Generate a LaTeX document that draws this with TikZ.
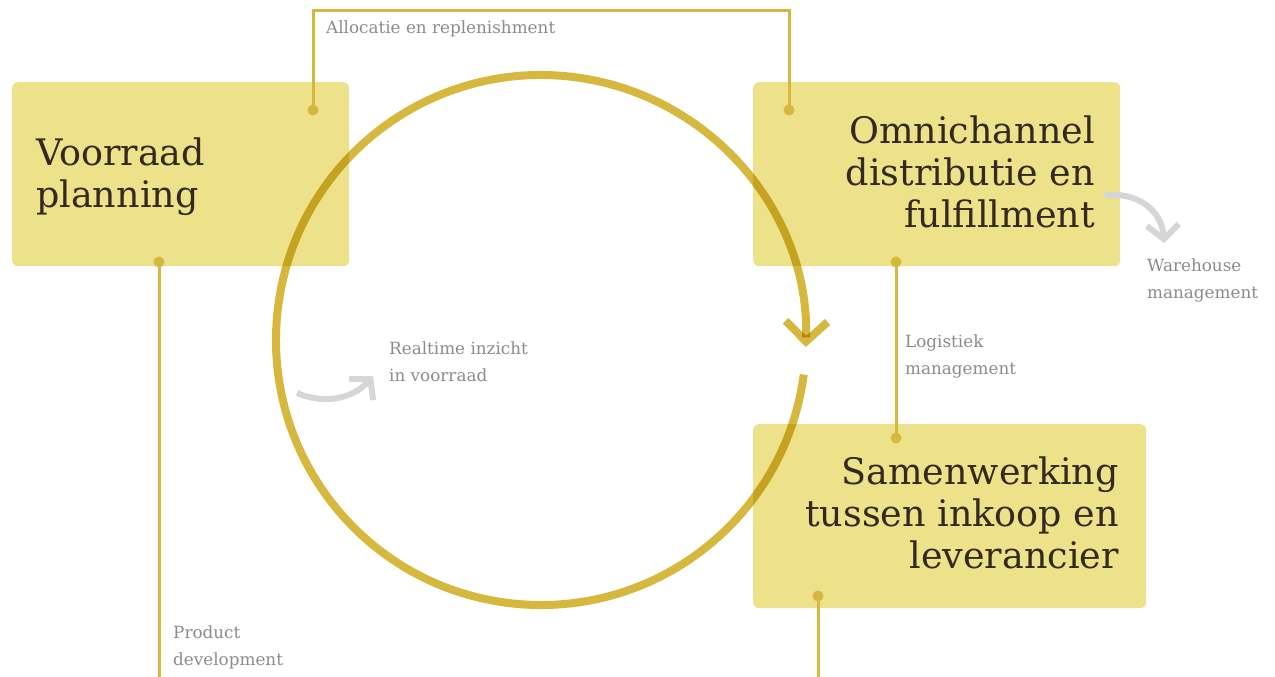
\documentclass[tikz,border=0pt]{standalone}
\usepackage{fontspec}
\setmainfont{DejaVu Serif}
\usetikzlibrary{arrows.meta}
\definecolor{gold}{RGB}{214,184,62}
\definecolor{boxfill}{RGB}{237,225,138}
\definecolor{ink}{RGB}{51,41,30}
\definecolor{note}{RGB}{140,140,140}
\definecolor{hint}{RGB}{214,214,214}
\begin{document}
\begin{tikzpicture}[x=1pt,y=-1pt,
  stage/.style={fill=boxfill, rounded corners=6pt, draw=none, inner sep=0pt, anchor=north west, minimum height=184pt},
  title/.style={text=ink, font=\fontsize{36.5}{42}\selectfont, inner sep=0pt},
  label/.style={text=note, font=\fontsize{16.8}{26.5}\selectfont, inner sep=0pt, align=left, anchor=base west},
  link/.style={draw=gold, line width=3pt},
  pin/.style={fill=gold},
  hintarrow/.style={draw=hint, line width=6pt, -{Straight Barb[length=14pt,width=32pt]}}
]
\useasboundingbox (0,0) rectangle (1275,677);
\fill[white] (0,0) rectangle (1275,677);

% boxes
\node[stage, minimum width=337pt] (plan) at (12,82) {};
\node[stage, minimum width=367pt] (omni) at (753,82) {};
\node[stage, minimum width=393pt] (inkoop) at (753,424) {};

% cycle around the middle
\begin{scope}[blend mode=multiply]
\draw[gold, line width=8pt, -{Straight Barb[length=20pt,width=42pt]}]
  (541,340) ++(7.5:265) arc[start angle=7.5, end angle=361.5, radius=265];
\end{scope}

% box titles (anchored on the baseline of the last line)
\node[title, align=left, anchor=base west] (plantxt) at (36,207) {Voorraad\\planning};
\node[title, align=right, anchor=base east] (omnitxt) at (1095,227) {Omnichannel\\distributie en\\fulfillment};
\node[title, align=right, anchor=base east] (inkooptxt) at (1119,568) {Samenwerking\\tussen inkoop en\\leverancier};

% connector anchors
\coordinate (p1) at (313,110);
\coordinate (p2) at (789,110);
\coordinate (ptop) at (550,11);
\coordinate (p3) at (159,262);
\coordinate (p3end) at (159,677);
\coordinate (p4) at (896,262);
\coordinate (p5) at (896,438);
\coordinate (p6) at (818,596);
\coordinate (p6end) at (818,677);

% connectors
\draw[link] (p1) |- (ptop) -| (p2);
\draw[link] (p3) -- (p3end);
\draw[link] (p4) -- (p5);
\draw[link] (p6) -- (p6end);
\foreach \p in {p1,p2,p3,p4,p5,p6} \fill[pin] (\p) circle[radius=5.5];

% labels
\node[label] (alloc) at (326,34) {Allocatie en replenishment};
\node[label] (wh) at (1147,298) {Warehouse\\management};
\node[label] (rt) at (389,381) {Realtime inzicht\\in voorraad};
\node[label] (logi) at (905,374) {Logistiek\\management};
\node[label] (prod) at (173,665) {Product\\development};

% small grey arrows
\coordinate (w0) at (1105,195);
\coordinate (w1) at (1164,243);
\draw[hintarrow] (w0) .. controls (1140,192) and (1162,212) .. (w1);
\coordinate (r0) at (297,393);
\coordinate (r1) at (373,376);
\draw[hintarrow] (r0) .. controls (322,404) and (352,400) .. (r1);
\end{tikzpicture}
\end{document}
